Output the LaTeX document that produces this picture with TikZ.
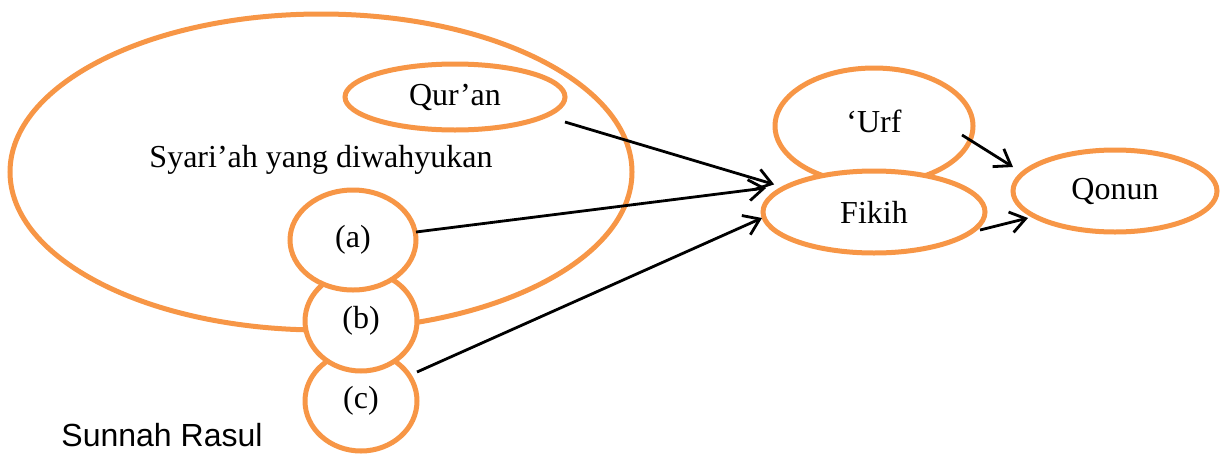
\documentclass[tikz,border=0pt]{standalone}
\usepackage{fontspec}
\setmainfont{Liberation Serif}
\newfontfamily\arialfont{Liberation Sans}
\usetikzlibrary{shapes.geometric,arrows.meta}
\definecolor{ora}{RGB}{247,150,70}
\begin{document}
\begin{tikzpicture}[x=1pt,y=-1pt,
  ell/.style={ellipse,draw=ora,line width=5pt,fill=white,inner sep=0pt,outer sep=0pt,
    font=\fontsize{32}{38}\selectfont},
  arr/.style={draw=black,line width=2.8pt,-{Straight Barb[length=15pt,width=21pt]}}]
\useasboundingbox (0,0) rectangle (1222,453);
\node[ell,minimum width=622pt,minimum height=316pt] (syar) at (321,172) {};
\node[font=\fontsize{32}{38}\selectfont] (syartext) at (321,160) {Syari’ah yang diwahyukan};
\node[ell,minimum width=220pt,minimum height=66pt] (quran) at (455,97) {Qur’an};
\node[ell,minimum width=112pt,minimum height=100pt] (c) at (361,401) {\raisebox{5pt}{(c)}};
\node[ell,minimum width=112pt,minimum height=100pt] (b) at (361,321) {\raisebox{7pt}{(b)}};
\node[ell,minimum width=126pt,minimum height=100pt] (a) at (353,240) {\raisebox{4pt}{(a)}};
\node[ell,minimum width=198pt,minimum height=116pt] (urf) at (874,126) {\raisebox{10pt}{‘Urf}};
\node[ell,minimum width=222pt,minimum height=82pt] (fikih) at (874,212) {Fikih};
\node[ell,minimum width=204pt,minimum height=82pt] (qonun) at (1115,191) {Qonun};
\node[font=\arialfont\fontsize{32}{38}\selectfont] (sunnah) at (162,435) {Sunnah Rasul};
\draw[arr] ([yshift=-25pt]quran.east) -- ([xshift=-10pt,yshift=3.5pt]fikih.165);
\draw[arr] ([yshift=8pt]a.east) -- ([xshift=-18pt]fikih.165);
\draw[arr] ([yshift=29pt]c.east) -- ([xshift=-1pt,yshift=-6pt]fikih.west);
\draw[arr] ([xshift=-11pt,yshift=-9pt]urf.east) -- ([yshift=24pt]qonun.west);
\draw[arr] ([xshift=-5pt,yshift=-18pt]fikih.east) -- ([xshift=15pt,yshift=-27pt]qonun.west);
\end{tikzpicture}
\end{document}
